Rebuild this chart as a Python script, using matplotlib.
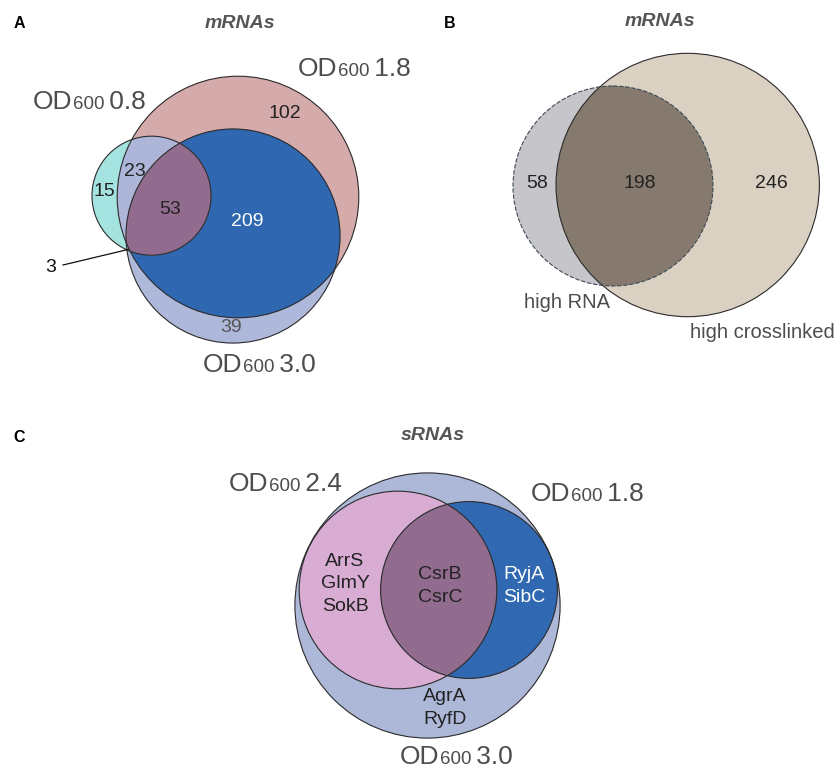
import numpy as np
import matplotlib
matplotlib.use("Agg")
import matplotlib.pyplot as plt
from matplotlib.patches import Polygon, Circle

plt.rcParams['font.family'] = ['Liberation Sans', 'DejaVu Sans']

# Panel A: mRNAs per growth phase (region counts)
a_sets = ["0.8", "1.8", "3.0"]
a_only_08 = 15
a_08_18 = 23
a_all = 53
a_08_30 = 3
a_only_18 = 102
a_18_30 = 209
a_only_30 = 39

# Panel B: high RNA vs high crosslinked
b_sets = ["high RNA", "high crosslinked"]
b_only_rna = 58
b_both = 198
b_only_xl = 246

# Panel C: sRNAs per growth phase
c_sets = ["2.4", "1.8", "3.0"]
c_only_24 = ["ArrS", "GlmY", "SokB"]
c_24_18 = ["CsrB", "CsrC"]
c_only_18 = ["RyjA", "SibC"]
c_only_30 = ["AgrA", "RyfD"]

W, H = 838, 769
fig = plt.figure(figsize=(W / 100, H / 100), dpi=100)
ax = fig.add_axes([0, 0, 1, 1])
ax.set_xlim(0, W)
ax.set_ylim(H, 0)
ax.axis("off")
renderer = fig.canvas.get_renderer()

EDGE = "#2b2b2b"
GREY_TXT = "#4d4d4d"


def circle_pts(cx, cy, r, n=360):
    t = np.linspace(0, 2 * np.pi, n, endpoint=False)
    return [np.array([cx + r * np.cos(v), cy + r * np.sin(v)]) for v in t]


def clip(subject, clipper):
    # Sutherland-Hodgman, clipper is convex and counter-clockwise
    def inside(p, a, b):
        return (b[0] - a[0]) * (p[1] - a[1]) - (b[1] - a[1]) * (p[0] - a[0]) >= 0

    def cross_pt(s, e, a, b):
        d1 = e - s
        d2 = b - a
        den = d1[0] * d2[1] - d1[1] * d2[0]
        t = ((a[0] - s[0]) * d2[1] - (a[1] - s[1]) * d2[0]) / den
        return s + t * d1

    out = subject
    for i in range(len(clipper)):
        a, b = clipper[i - 1], clipper[i]
        inp, out = out, []
        if not inp:
            break
        s = inp[-1]
        for e in inp:
            if inside(e, a, b):
                if not inside(s, a, b):
                    out.append(cross_pt(s, e, a, b))
                out.append(e)
            elif inside(s, a, b):
                out.append(cross_pt(s, e, a, b))
            s = e
    return out


def fill(pts, color, z=1):
    if len(pts) > 2:
        ax.add_patch(Polygon(np.array(pts), closed=True, fc=color, ec="none", zorder=z))


def outline(c, ls="-", color=EDGE):
    ax.add_patch(Circle((c[0], c[1]), c[2], fill=False, ec=color, lw=0.8, ls=ls, zorder=5))


def od_label(x, y, value, big=19, small=13.5):
    # "OD" + smaller "600" + value, sharing one baseline
    for s, size in (("OD", big), ("600", small), ("\u2009" + value, big)):
        t = ax.text(x, y, s, fontsize=size, color=GREY_TXT, va="baseline", ha="left", zorder=6)
        bb = t.get_window_extent(renderer)
        x += bb.width * W / fig.bbox.width


def num(x, y, s, color="#222222", size=14):
    ax.text(x, y, str(s), fontsize=size, color=color, ha="center", va="center", zorder=6)


def heading(x, y, letter, tx, title):
    ax.text(x, y, letter, fontsize=11.5, fontweight="bold", ha="center", va="center")
    ax.text(tx, y - 1, title, fontsize=14, fontweight="bold", style="italic",
            color="#555555", ha="center", va="center")


def names(x, y, items, color="#222222"):
    ax.text(x, y, "\n".join(items), fontsize=14, color=color,
            ha="center", va="center", linespacing=1.45, zorder=6)


# ---------------- Panel A ----------------
ka = 6.14
r08 = ka * np.sqrt(a_only_08 + a_08_18 + a_all + a_08_30)
r18 = ka * np.sqrt(a_08_18 + a_all + a_only_18 + a_18_30)
r30 = ka * np.sqrt(a_all + a_08_30 + a_18_30 + a_only_30)
cA08 = (151.5, 195.7, r08)
cA18 = (238.0, 197.0, r18)
cA30 = (233.0, 236.0, r30)
p08, p18, p30 = (circle_pts(*c) for c in (cA08, cA18, cA30))

fill(p30, "#aeb8da")
fill(p18, "#d4aaab")
fill(clip(p30, p18), "#2f68b0")
fill(p08, "#a4e3df")
fill(clip(p08, p18), "#adb5d8")
fill(clip(p08, p30), "#b3b9da")
fill(clip(clip(p08, p18), p30), "#926c8e")
for c in (cA08, cA18, cA30):
    outline(c)

heading(19, 24, "A", 240, "mRNAs")
od_label(298, 76, a_sets[1])
od_label(33, 109, a_sets[0])
od_label(203, 372, a_sets[2])

num(285, 114, a_only_18)
num(135, 171, a_08_18)
num(104, 191, a_only_08)
num(170, 209, a_all)
num(247, 222, a_18_30, color="white")
num(231, 327, a_only_30, color="#555555")
num(51, 267, a_08_30, color="#111111")
ax.plot([63, 128], [265, 249.5], color="#111111", lw=0.9, zorder=6)

# ---------------- Panel B ----------------
kb = 6.25
r_rna = kb * np.sqrt(b_only_rna + b_both)
r_xl = kb * np.sqrt(b_both + b_only_xl)
cB_rna = (613.0, 186.0, r_rna)
cB_xl = (687.7, 185.0, r_xl)
pr, px = circle_pts(*cB_rna), circle_pts(*cB_xl)
fill(pr, "#c6c6ca")
fill(px, "#dbd1c3")
fill(clip(pr, px), "#857a6d")
outline(cB_xl)
outline(cB_rna, ls=(0, (4, 1.5)), color="#3d4a55")

heading(450, 23, "B", 660, "mRNAs")
num(537, 183, b_only_rna)
num(640, 183, b_both)
num(771, 183, b_only_xl)
ax.text(567, 303, b_sets[0], fontsize=14.5, color=GREY_TXT, ha="center", va="center")
ax.text(762, 333, b_sets[1], fontsize=14.5, color=GREY_TXT, ha="center", va="center")

# ---------------- Panel C ----------------
kc = 44.2
n24 = len(c_only_24) + len(c_24_18)
n18 = len(c_24_18) + len(c_only_18)
n30 = n24 + len(c_only_18) + len(c_only_30)
cC30 = (427.5, 605.5, kc * np.sqrt(n30))
cC24 = (398.0, 590.0, kc * np.sqrt(n24))
cC18 = (469.0, 590.0, kc * np.sqrt(n18))
q30, q24, q18 = (circle_pts(*c) for c in (cC30, cC24, cC18))
fill(q30, "#adb8d9")
fill(q24, "#d8acd3")
fill(q18, "#3069b1")
fill(clip(q24, q18), "#926c8e")
for c in (cC30, cC24, cC18):
    outline(c)

heading(19, 437, "C", 433, "sRNAs")
od_label(229, 491, c_sets[0])
od_label(531, 501, c_sets[1])
od_label(400, 764, c_sets[2])

names(345, 584, c_only_24)
names(440, 586, c_24_18)
names(524, 586, c_only_18, color="white")
names(445, 708, c_only_30)

fig.savefig("out.png", dpi=100)
